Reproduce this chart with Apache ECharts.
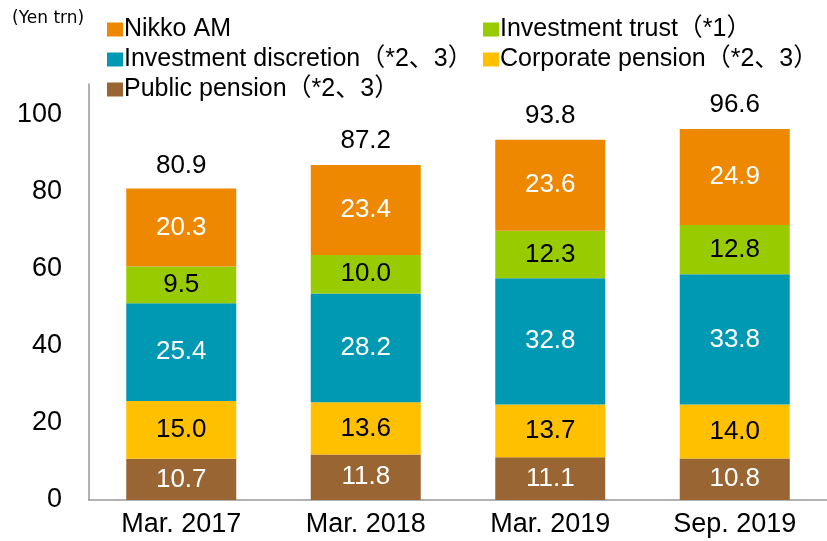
<!DOCTYPE html>
<html>
<head>
<meta charset="utf-8">
<title>Nikko AM AUM</title>
<script src="https://cdn.jsdelivr.net/npm/echarts@6/dist/echarts.min.js"></script>
<style>
body { margin: 0; background: #fff; }
#main { width: 827px; height: 541px; }
</style>
</head>
<body>
<div id="main"></div>
<script>
var categories = ['Mar. 2017', 'Mar. 2018', 'Mar. 2019', 'Sep. 2019'];
var publicPension = [10.7, 11.8, 11.1, 10.8];
var corporatePension = [15.0, 13.6, 13.7, 14.0];
var investDiscretion = [25.4, 28.2, 32.8, 33.8];
var investTrust = [9.5, 10.0, 12.3, 12.8];
var nikkoAM = [20.3, 23.4, 23.6, 24.9];
var totals = [80.9, 87.2, 93.8, 96.6];
var yTicks = [0, 20, 40, 60, 80, 100];

var font = "'Liberation Sans', Arial, 'Noto Sans CJK JP', sans-serif";

function bar(name, data, color, labelColor) {
  return {
    name: name,
    type: 'bar',
    stack: 'aum',
    data: data,
    barWidth: 110,
    itemStyle: { color: color },
    label: {
      show: true,
      position: 'inside',
      color: labelColor,
      fontSize: 26,
      fontFamily: font,
      formatter: function (p) { return p.value.toFixed(1); }
    },
    emphasis: { disabled: true }
  };
}

var legendText = { fontSize: 25, color: '#000', fontFamily: font, padding: [0, 0, 0, -4] };

var myChart = echarts.init(document.getElementById('main'));
var option = {
  animation: false,
  textStyle: { fontFamily: font },
  graphic: [{
    type: 'text', left: 12, top: 10,
    style: { text: '(Yen trn)', fontSize: 17, fontFamily: "'DejaVu Sans', sans-serif", fill: '#000' }
  }],
  legend: [{
    orient: 'vertical', left: 102, top: 12, itemGap: 5,
    itemWidth: 16, itemHeight: 14, icon: 'rect',
    textStyle: legendText,
    data: ['Nikko AM', 'Investment discretion（*2、3）', 'Public pension（*2、3）']
  }, {
    orient: 'vertical', left: 478, top: 12, itemGap: 5,
    itemWidth: 16, itemHeight: 14, icon: 'rect',
    textStyle: legendText,
    data: ['Investment trust（*1）', 'Corporate pension（*2、3）']
  }],
  grid: { left: 89, top: 84, width: 748, height: 416, containLabel: false },
  xAxis: {
    type: 'category',
    data: categories,
    axisLine: { lineStyle: { color: '#999', width: 1.5 } },
    axisTick: { show: false },
    axisLabel: { fontSize: 27, color: '#000', margin: 11, fontFamily: font }
  },
  yAxis: {
    type: 'value',
    min: 0, max: 108, interval: 20,
    splitLine: { show: false },
    axisLine: { show: true, lineStyle: { color: '#999', width: 1.5 } },
    axisTick: { show: false },
    axisLabel: {
      fontSize: 27, color: '#000', margin: 27, fontFamily: font,
      showMaxLabel: false,
      formatter: function (v) { return yTicks.indexOf(v) >= 0 ? v : ''; }
    }
  },
  series: [
    bar('Public pension（*2、3）', publicPension, '#996633', '#fff'),
    bar('Corporate pension（*2、3）', corporatePension, '#FFC000', '#000'),
    bar('Investment discretion（*2、3）', investDiscretion, '#0099B4', '#fff'),
    bar('Investment trust（*1）', investTrust, '#99CC00', '#000'),
    bar('Nikko AM', nikkoAM, '#EE8800', '#fff'),
    {
      name: 'total',
      type: 'scatter',
      data: totals,
      symbolSize: 0,
      itemStyle: { opacity: 1, color: 'transparent' },
      label: {
        show: true, position: 'top', distance: 10,
        color: '#000', fontSize: 26, fontFamily: font,
        formatter: function (p) { return p.value.toFixed(1); }
      },
      emphasis: { disabled: true }
    }
  ]
};
myChart.setOption(option);
</script>
</body>
</html>
